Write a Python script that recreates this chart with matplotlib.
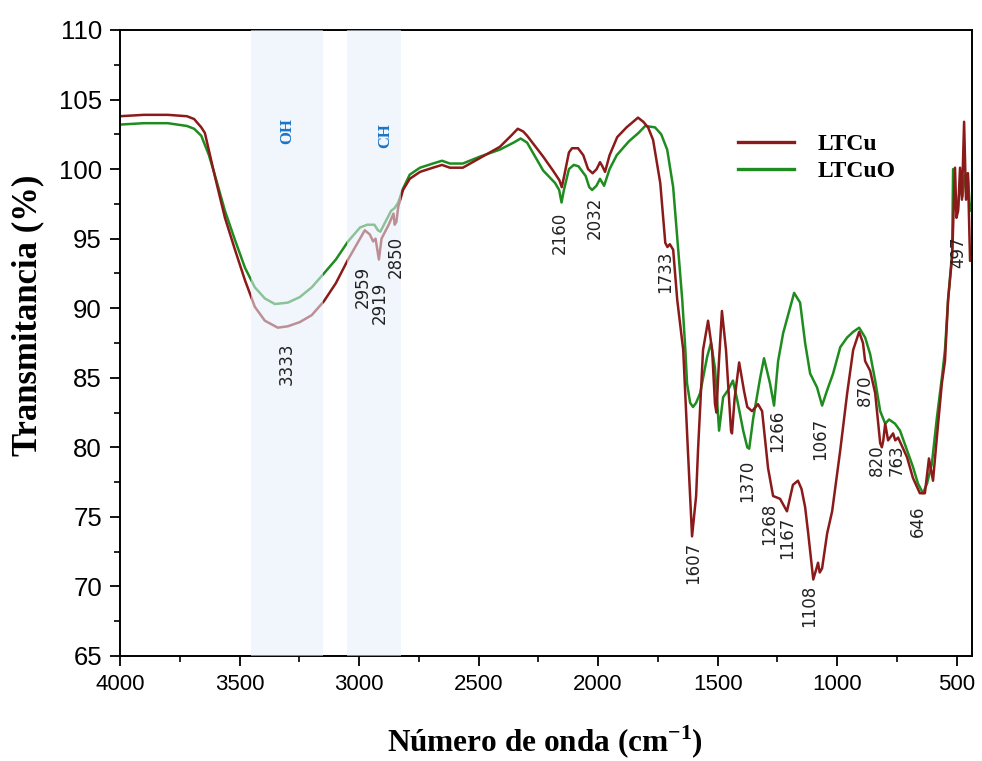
import matplotlib
matplotlib.use("Agg")
import matplotlib.pyplot as plt
from matplotlib.ticker import MultipleLocator

plt.rcParams["mathtext.fontset"] = "custom"
plt.rcParams["mathtext.rm"] = "Liberation Serif"
plt.rcParams["mathtext.bf"] = "Liberation Serif:bold"

# LTCu spectrum (wavenumber, transmittance)
ltcu_wn = [4000, 3900, 3800, 3720, 3690, 3660, 3645, 3602, 3561, 3519, 3477, 3436,
           3394, 3340, 3298, 3248, 3198, 3147, 3097, 3046, 2996, 2976, 2955, 2941,
           2931, 2917, 2906, 2876, 2856, 2851, 2844, 2836, 2816, 2788, 2745, 2691,
           2653, 2620, 2566, 2494, 2411, 2364, 2336, 2313, 2297, 2230, 2189, 2162,
           2152, 2142, 2122, 2109, 2084, 2062, 2042, 2023, 2006, 1992, 1982, 1971,
           1952, 1920, 1881, 1833, 1811, 1791, 1770, 1740, 1719, 1710, 1700, 1686,
           1669, 1644, 1625, 1607, 1590, 1582, 1561, 1540, 1523, 1511, 1505, 1495,
           1482, 1465, 1444, 1440, 1429, 1410, 1389, 1376, 1356, 1331, 1314, 1289,
           1268, 1239, 1210, 1185, 1164, 1149, 1134, 1121, 1100, 1088, 1080, 1073,
           1063, 1042, 1021, 987, 958, 933, 908, 892, 883, 862, 841, 820, 813, 807,
           799, 787, 766, 757, 745, 708, 683, 654, 633, 616, 599, 583, 562, 549,
           536, 519, 507, 501, 494, 486, 478, 469, 461, 453, 444, 436]
ltcu_t = [103.8, 103.9, 103.9, 103.8, 103.6, 103.0, 102.6, 99.4, 96.5, 94.2, 92.0, 90.1,
          89.1, 88.6, 88.7, 89.0, 89.5, 90.5, 91.8, 93.5, 95.0, 95.6, 95.3, 94.8,
          95.0, 93.5, 95.0, 96.0, 96.8, 96.0, 96.2, 97.3, 98.5, 99.3, 99.8, 100.1,
          100.3, 100.1, 100.1, 100.8, 101.6, 102.4, 102.9, 102.7, 102.4, 100.9, 99.9, 99.2,
          98.7, 99.5, 101.2, 101.5, 101.5, 101.0, 100.0, 99.7, 100.0, 100.5, 100.2, 99.8,
          101.0, 102.3, 103.0, 103.7, 103.4, 103.0, 102.1, 99.0, 94.7, 94.4, 94.6, 94.2,
          90.6, 87.0, 80.0, 73.6, 76.5, 79.8, 87.0, 89.1, 87.0, 83.1, 82.5, 86.0,
          89.8, 87.0, 81.2, 81.0, 83.5, 86.1, 84.0, 82.9, 82.6, 83.1, 82.6, 78.5,
          76.5, 76.3, 75.4, 77.3, 77.6, 77.0, 75.7, 73.8, 70.5, 71.2, 71.7, 71.0,
          71.3, 73.8, 75.4, 79.8, 83.9, 87.0, 88.3, 87.5, 86.2, 85.5, 83.9, 80.3, 80.0, 80.5,
          81.7, 80.5, 81.0, 80.5, 80.7, 79.3, 77.8, 76.7, 76.7, 79.2, 77.6, 80.7, 84.6, 86.2,
          90.6, 93.7, 100.1, 96.5, 97.0, 100.1, 97.8, 103.4, 97.8, 99.7, 93.4, 94.0]

# LTCuO spectrum
ltcuo_wn = [4000, 3900, 3800, 3720, 3690, 3660, 3628, 3602, 3561, 3519, 3477, 3436,
            3394, 3352, 3298, 3248, 3198, 3147, 3097, 3046, 2996, 2966, 2936, 2921,
            2911, 2896, 2866, 2851, 2836, 2816, 2788, 2745, 2691, 2653, 2620, 2566,
            2494, 2411, 2354, 2324, 2297, 2230, 2180, 2163, 2153, 2143, 2122, 2102,
            2082, 2052, 2037, 2025, 2007, 1992, 1982, 1975, 1952, 1922, 1871, 1831,
            1803, 1762, 1736, 1711, 1686, 1665, 1648, 1635, 1628, 1615, 1603, 1590,
            1573, 1544, 1528, 1511, 1494, 1477, 1457, 1436, 1418, 1393, 1376, 1368,
            1351, 1322, 1306, 1281, 1264, 1247, 1226, 1196, 1180, 1155, 1134, 1113,
            1084, 1063, 1042, 1017, 987, 958, 933, 908, 883, 862, 841, 820, 799, 783,
            758, 737, 708, 683, 662, 641, 624, 604, 583, 562, 549, 536, 519, 515,
            506, 496, 486, 476, 466, 454, 444, 436]
ltcuo_t = [103.2, 103.3, 103.3, 103.1, 102.9, 102.4, 101.0, 99.5, 97.0, 94.9, 92.9, 91.5,
           90.7, 90.3, 90.4, 90.8, 91.5, 92.5, 93.5, 94.8, 95.8, 96.0, 96.0, 95.6,
           95.5, 96.0, 97.0, 97.2, 97.6, 98.6, 99.6, 100.1, 100.4, 100.6, 100.4, 100.4,
           100.9, 101.4, 101.9, 102.2, 101.9, 99.9, 99.0, 98.5, 97.6, 98.5, 100.0, 100.3,
           100.2, 99.5, 98.7, 98.5, 98.8, 99.3, 99.0, 98.8, 100.0, 101.0, 102.0, 102.6,
           103.1, 103.0, 102.5, 101.4, 98.7, 94.2, 90.6, 87.0, 84.6, 83.2, 82.9, 83.2,
           83.9, 86.5, 87.5, 85.7, 81.2, 83.6, 84.1, 84.8, 83.4, 81.2, 80.0, 79.9,
           82.1, 85.0, 86.4, 84.6, 83.0, 86.2, 88.2, 90.1, 91.1, 90.4, 87.5, 85.3,
           84.3, 83.0, 84.1, 85.3, 87.2, 87.9, 88.3, 88.6, 87.9, 86.7, 84.8, 82.6, 81.7, 82.0,
           81.7, 81.2, 79.8, 78.6, 77.4, 76.7, 77.4, 78.8, 82.1, 85.0, 87.0, 90.6, 94.0, 100.0,
           97.5, 97.0, 98.8, 98.0, 99.5, 99.7, 97.0, 97.5]

# shaded regions (wavenumber ranges) and their labels
band_ranges = [(3450, 3150), (3050, 2825)]
band_names = ["OH", "CH"]
band_label_pos = [(3301, 102.7), (2891, 102.4)]

# peak labels and where they were written
peak_labels = ["3333", "2959", "2919", "2850", "2160", "2032", "1733", "1607",
               "1370", "1268", "1167", "1266", "1067", "1108", "870", "820",
               "763", "646", "497"]
peak_label_pos = [(3301, 86.0), (2983, 91.5), (2912, 90.4), (2845, 93.7),
                  (2159, 95.4), (2013, 96.5), (1720, 92.6), (1603, 71.7),
                  (1377, 77.6), (1285, 74.5), (1209, 73.5), (1251, 81.2),
                  (1071, 80.6), (1117, 68.6), (883, 84.1), (833, 79.1),
                  (753, 79.1), (661, 74.7), (494, 94.0)]

fig = plt.figure(figsize=(9.82, 7.61), dpi=100)
ax = fig.add_axes([0.1222, 0.1380, 0.8676, 0.8226])

ax.plot(ltcu_wn, ltcu_t, color="#8b1a1a", lw=1.8, label="LTCu", zorder=2)
ax.plot(ltcuo_wn, ltcuo_t, color="#1f8c1f", lw=1.8, label="LTCuO", zorder=1.9)

# bands are drawn over the curves, so the lines look paler inside them
for (a, b) in band_ranges:
    ax.axvspan(a, b, color="#e6f0fb", alpha=0.55, lw=0, zorder=3)
for name, (x, y) in zip(band_names, band_label_pos):
    ax.text(x, y, name, rotation=90, ha="center", va="center", color="#1a74c8",
            fontsize=12, fontweight="bold", family="Liberation Serif", zorder=4)

for lab, (x, y) in zip(peak_labels, peak_label_pos):
    ax.text(x, y, lab, rotation=90, ha="center", va="center", color="#222222",
            fontsize=12, family="DejaVu Sans", zorder=4)

ax.set_xlim(4000, 436)
ax.set_ylim(65, 110)
ax.xaxis.set_major_locator(MultipleLocator(500))
ax.xaxis.set_minor_locator(MultipleLocator(250))
ax.yaxis.set_major_locator(MultipleLocator(5))
ax.yaxis.set_minor_locator(MultipleLocator(2.5))
ax.tick_params(which="major", direction="out", length=7, width=1.3, pad=6)
ax.tick_params(which="minor", direction="out", length=4, width=1.2)
for s in ax.spines.values():
    s.set_linewidth(1.4)

for t in ax.get_xticklabels():
    t.set_family("Liberation Sans")
    t.set_fontsize(16)
for t in ax.get_yticklabels():
    t.set_family("Liberation Sans")
    t.set_fontsize(18.5)

fig.text(0.028, 0.586, "Transmitancia (%)", rotation=90, ha="center", va="center",
         fontsize=25, fontweight="bold", family="Liberation Serif")
fig.text(0.555, 0.025, r"Número de onda (cm$^{\mathregular{-1}}$)", ha="center", va="center",
         fontsize=22.5, fontweight="bold", family="Liberation Serif")

leg = ax.legend(loc="upper left", bbox_to_anchor=(0.725, 0.835), frameon=False,
                handlelength=2.4, handletextpad=1.0, labelspacing=0.25,
                borderaxespad=0, borderpad=0,
                prop={"family": "Liberation Serif", "weight": "bold", "size": 17})
for h in leg.get_lines():
    h.set_linewidth(2.4)

fig.savefig("out.png", dpi=100)
